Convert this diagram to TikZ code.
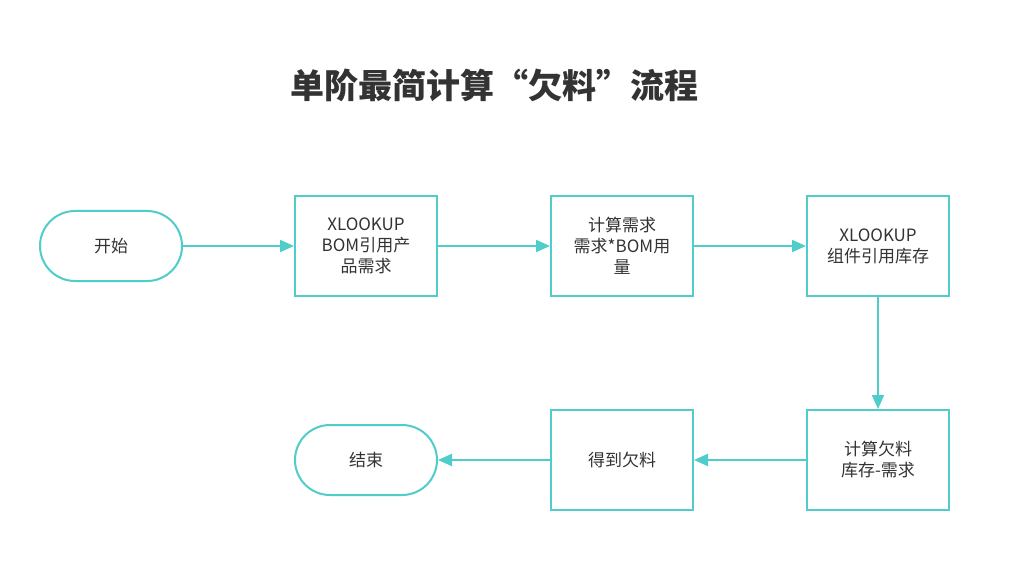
\documentclass[tikz,border=0pt]{standalone}
\usepackage{fontspec}
\setmainfont{Noto Sans CJK SC}
\usetikzlibrary{arrows.meta}
\definecolor{tl}{HTML}{4ECDCB}
\definecolor{tx}{HTML}{333333}
\begin{document}
\begin{tikzpicture}[x=1pt,y=-1pt,
 box/.style={draw=tl,line width=2pt,minimum width=142pt,minimum height=100pt,align=center,text=tx,font=\fontsize{17}{21}\selectfont},
 term/.style={draw=tl,line width=2pt,minimum width=142pt,minimum height=70pt,rounded corners=35pt,text=tx,font=\fontsize{17}{21}\selectfont},
 ar/.style={draw=tl,line width=2pt,-{Triangle[length=14pt,width=12pt]}}]
\useasboundingbox[fill=white] (0,0) rectangle (1024,577);
\node[text=tx,font=\bfseries\fontsize{34}{40}\selectfont] (t) at (494,85) {单阶最简计算“欠料”流程};
\node[term] (s) at (111,246) {开始};
\node[box] (b1) at (366,246) {XLOOKUP\\BOM引用产\\品需求};
\node[box] (b2) at (622,246) {计算需求\\需求*BOM用\\量};
\node[box] (b3) at (878,246) {XLOOKUP\\组件引用库存};
\node[box] (b4) at (878,460) {计算欠料\\库存-需求};
\node[box] (b5) at (622,460) {得到欠料};
\node[term] (e) at (366,460) {结束};
\draw[ar] (s) -- (b1);
\draw[ar] (b1) -- (b2);
\draw[ar] (b2) -- (b3);
\draw[ar] (b3) -- (b4);
\draw[ar] (b4) -- (b5);
\draw[ar] (b5) -- (e);
\end{tikzpicture}
\end{document}
